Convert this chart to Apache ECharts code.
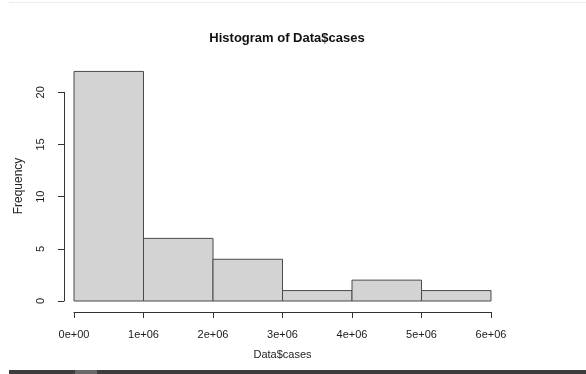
<!DOCTYPE html>
<html>
<head>
<meta charset="utf-8">
<script src="https://cdn.jsdelivr.net/npm/echarts@6/dist/echarts.min.js"></script>
<style>html,body{margin:0;padding:0;background:#fff;}#c{width:586px;height:374px;}</style>
</head>
<body>
<div id="c"></div>
<script>
var binStarts = [0, 1000000, 2000000, 3000000, 4000000, 5000000];
var binEnds = [1000000, 2000000, 3000000, 4000000, 5000000, 6000000];
var counts = [22, 6, 4, 1, 2, 1];
var xTickValues = [0, 1000000, 2000000, 3000000, 4000000, 5000000, 6000000];
var xTickLabels = ['0e+00', '1e+06', '2e+06', '3e+06', '4e+06', '5e+06', '6e+06'];
var yTickLabels = ['0', '5', '10', '15', '20'];

var FONT = 'Liberation Sans, Arial, sans-serif';
var chart = echarts.init(document.getElementById('c'));
var data = binStarts.map(function (s, i) { return [s, binEnds[i], counts[i]]; });

chart.setOption({
  backgroundColor: '#ffffff',
  animation: false,
  title: {
    text: 'Histogram of Data$cases',
    left: 282, top: 27, textAlign: 'center',
    textStyle: { fontFamily: FONT, fontSize: 13, fontWeight: 'bold', color: '#111' }
  },
  grid: { left: 74, right: 95, top: 92.3, bottom: 73 },
  xAxis: {
    type: 'value', min: 0, max: 6000000, interval: 1000000,
    offset: 11,
    name: 'Data$cases', nameLocation: 'middle', nameGap: 37,
    nameTextStyle: { fontFamily: FONT, fontSize: 11, color: '#222' },
    axisLine: { show: true, onZero: false, lineStyle: { color: '#333', width: 1 } },
    axisTick: { show: true, length: 6, lineStyle: { color: '#333' } },
    splitLine: { show: false },
    axisLabel: {
      margin: 17, fontFamily: FONT, fontSize: 11, color: '#1a1a1a',
      formatter: function (v) { var i = xTickValues.indexOf(v); return i >= 0 ? xTickLabels[i] : ''; }
    }
  },
  yAxis: {
    type: 'value', min: 0, max: 20, interval: 5,
    offset: 10,
    axisLine: { show: true, onZero: false, lineStyle: { color: '#333', width: 1 } },
    axisTick: { show: true, length: 6, lineStyle: { color: '#333' } },
    splitLine: { show: false },
    axisLabel: {
      rotate: 90, margin: 18, fontFamily: FONT, fontSize: 11, color: '#1a1a1a',
      formatter: function (v) { return yTickLabels[v / 5]; }
    }
  },
  graphic: [
    { type: 'text', x: 19, y: 186, rotation: Math.PI / 2,
      style: { text: 'Frequency', fontFamily: FONT, fontSize: 12, fill: '#222', textAlign: 'center', textVerticalAlign: 'middle' } },
    { type: 'rect', shape: { x: 9, y: 2, width: 577, height: 1 }, style: { fill: '#ececec' } },
    { type: 'rect', shape: { x: 9, y: 370, width: 577, height: 4 }, style: { fill: '#3d3d3d' } },
    { type: 'rect', shape: { x: 75, y: 370, width: 22, height: 4 }, style: { fill: '#6a6a6a' } }
  ],
  series: [{
    type: 'custom',
    clip: false,
    data: data,
    renderItem: function (params, api) {
      var p0 = api.coord([api.value(0), 0]);
      var p1 = api.coord([api.value(1), api.value(2)]);
      return {
        type: 'rect',
        shape: { x: p0[0], y: p1[1], width: p1[0] - p0[0], height: p0[1] - p1[1] },
        style: { fill: '#d3d3d3', stroke: '#4a4a4a', lineWidth: 1 }
      };
    }
  }]
});
</script>
</body>
</html>
